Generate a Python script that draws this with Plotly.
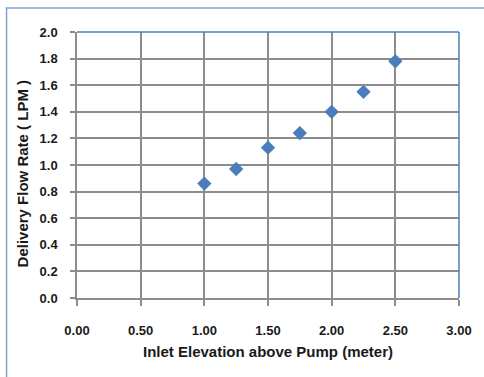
import plotly.graph_objects as go

elevation_m = [1.00, 1.25, 1.50, 1.75, 2.00, 2.25, 2.50]
flow_lpm = [0.86, 0.97, 1.13, 1.24, 1.40, 1.55, 1.78]

x_ticks = [0.0, 0.5, 1.0, 1.5, 2.0, 2.5, 3.0]
x_ticklabels = ["0.00", "0.50", "1.00", "1.50", "2.00", "2.50", "3.00"]
y_ticks = [0.0, 0.2, 0.4, 0.6, 0.8, 1.0, 1.2, 1.4, 1.6, 1.8, 2.0]
y_ticklabels = ["0.0", "0.2", "0.4", "0.6", "0.8", "1.0", "1.2", "1.4", "1.6", "1.8", "2.0"]

FONT = "Liberation Sans, Arial"
BLUE = "#4a7ebb"
GRID = "#8c8c8c"

fig = go.Figure()
fig.add_trace(go.Scatter(
    x=elevation_m, y=flow_lpm, mode="markers",
    marker=dict(symbol="diamond", size=11, color=BLUE, line=dict(width=0)),
    showlegend=False,
))

W, H = 484, 377
ml, mr, mt, mb = 77, 22, 32, 79
pw, ph = W - ml - mr, H - mt - mb

fig.update_layout(
    width=W, height=H,
    margin=dict(l=ml, r=mr, t=mt, b=mb),
    paper_bgcolor="white", plot_bgcolor="white",
    font=dict(family=FONT, color="#1a1a1a"),
    xaxis=dict(
        range=[0, 3], tickvals=x_ticks, ticktext=x_ticklabels,
        showgrid=True, gridcolor=GRID, gridwidth=1.5,
        zeroline=False, showline=True, linecolor=GRID, linewidth=1.5,
        ticks="outside", ticklen=6, tickcolor=GRID, tickwidth=1.5,
        ticklabelstandoff=14,
        tickfont=dict(size=13, family=FONT, weight="bold"),
        title=dict(text="<b>Inlet Elevation above Pump (meter)</b>",
                   font=dict(size=15, family=FONT), standoff=9),
    ),
    yaxis=dict(
        range=[0, 2.0], tickvals=y_ticks, ticktext=y_ticklabels,
        showgrid=True, gridcolor=GRID, gridwidth=1.5,
        zeroline=False, showline=True, linecolor=GRID, linewidth=1.5,
        ticks="outside", ticklen=5, tickcolor=GRID, tickwidth=1.5,
        ticklabelstandoff=10,
        tickfont=dict(size=13, family=FONT, weight="bold"),
    ),
    annotations=[dict(
        text="<b>Delivery Flow Rate ( LPM )</b>", textangle=-90,
        xref="paper", yref="paper", x=(22 - ml) / pw, y=(298 - 173) / ph,
        xanchor="center", yanchor="middle", showarrow=False,
        font=dict(size=15, family=FONT, color="#1a1a1a"),
    )],
)

# blue top and right border of plot area
fig.add_shape(type="line", xref="paper", yref="paper", x0=0, x1=1, y0=1, y1=1,
              line=dict(color=BLUE, width=1.5))
fig.add_shape(type="line", xref="paper", yref="paper", x0=1, x1=1, y0=0, y1=1,
              line=dict(color=BLUE, width=1.5))
# outer chart border (left and top visible)
fig.add_shape(type="rect", xref="paper", yref="paper",
              x0=(6 - ml) / pw, x1=1.3, y0=-0.5, y1=1 + (mt - 8) / ph,
              line=dict(color="#7fa3d3", width=1.5), fillcolor="rgba(0,0,0,0)",
              layer="below")

fig.write_html("out.html")
